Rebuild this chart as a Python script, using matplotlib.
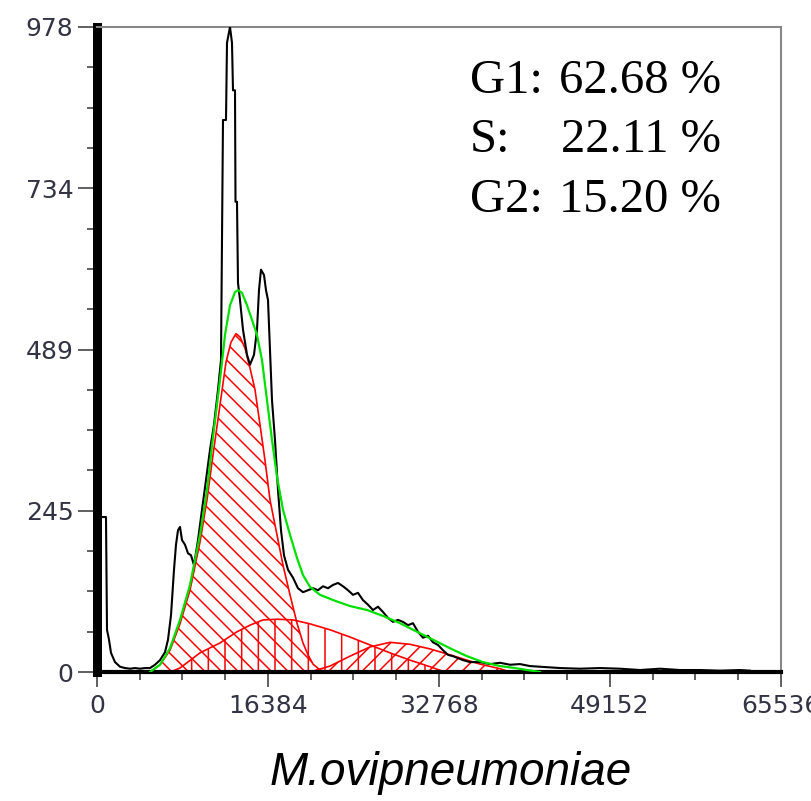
import matplotlib
matplotlib.use("Agg")
import matplotlib.pyplot as plt
from matplotlib.ticker import FixedLocator, MultipleLocator

# histograma medido (canal, contagem)
hist_x = [0, 383, 862, 958, 1150, 1341, 1725, 2204, 2683, 3162, 3641, 4120, 4599, 5078,
          5557, 6036, 6515, 6803, 7090, 7377, 7569, 7761, 7952, 8144, 8431, 8719, 9006,
          9294, 9677, 10060, 10443, 10827, 11210, 11593, 11880, 12072, 12360, 12455,
          12743, 12934, 13030, 13222, 13270, 13413, 13509, 13701, 13988, 14372, 14659,
          15042, 15330, 15521, 15713, 16000, 16192, 16384, 16575, 16767, 17054, 17342,
          17629, 17916, 18300, 18779, 19258, 19737, 20216, 20695, 21174, 21653, 22132,
          22611, 23090, 23569, 24048, 24527, 25006, 25485, 25964, 26443, 26922, 27401,
          27880, 28359, 28838, 29317, 29796, 30275, 30755, 31234, 31713, 32192, 32671,
          33150, 33629, 34108, 34587, 35066, 35737, 36695, 37653, 38611, 39570, 40528,
          41486, 42444, 44360, 46276, 48192, 50108, 52025, 53941, 55857, 57773, 59689,
          61605, 62563]
hist_y = [0, 235, 235, 64, 49, 29, 15, 8, 6, 5, 6, 5, 6, 6,
          11, 18, 30, 49, 86, 155, 193, 215, 220, 200, 193, 180, 177,
          162, 200, 246, 291, 337, 375, 428, 473, 837, 837, 954,
          978, 954, 882, 882, 713, 713, 590, 564, 519, 481, 466,
          481, 519, 579, 610, 602, 579, 564, 488, 412, 352, 276,
          215, 177, 155, 143, 127, 121, 124, 127, 124, 130, 127,
          132, 135, 130, 124, 117, 120, 109, 102, 94, 99, 91,
          82, 76, 79, 76, 71, 74, 61, 52, 55, 45, 41,
          33, 26, 24, 21, 18, 15, 15, 12, 14, 11, 12,
          9, 8, 6, 5, 6, 5, 3, 5, 3, 3, 2,
          3, 2]

# curva ajustada (soma)
fit_x = [5078, 6036, 6994, 7952, 8910, 9868, 10539, 11114, 11785, 12264, 12743, 13222,
         13509, 13892, 14372, 14851, 15330, 15809, 16288, 16767, 17246, 17821, 18492,
         19162, 19737, 20408, 21366, 22803, 24240, 25869, 27402, 29031, 30660, 32192,
         33821, 35450, 36983, 38611, 40048, 41198, 42444]
fit_y = [0, 11, 36, 79, 132, 208, 276, 356, 443, 511, 556, 576,
         579, 575, 556, 534, 511, 473, 412, 352, 296, 246, 208,
         173, 147, 129, 117, 108, 100, 94, 85, 74, 61, 49,
         36, 24, 15, 9, 6, 3, 0]

# fases
g1_x = [5078, 6036, 6994, 7952, 8910, 9868, 10539, 11114, 11785, 12360, 12839, 13318,
        13701, 14180, 14659, 15138, 15617, 16096, 16575, 17246, 17821, 18492, 19162,
        19737, 20216, 20695, 21366, 22324]
g1_y = [0, 11, 33, 73, 124, 197, 261, 329, 405, 470, 500, 513,
        508, 491, 461, 428, 375, 321, 261, 208, 162, 117, 74,
        44, 26, 12, 3, 0]
s_x = [6994, 7952, 9868, 11785, 13413, 14659, 15904, 17246, 18779, 20408, 22324, 24240,
       26156, 28072, 29988, 31905, 33342]
s_y = [0, 6, 29, 44, 61, 71, 79, 80, 79, 73, 64, 53, 41, 29, 18, 8, 0]
g2_x = [20408, 22324, 24240, 26156, 28072, 29988, 31905, 33821, 35450, 36695, 38611, 39570]
g2_y = [0, 9, 24, 38, 45, 42, 35, 26, 18, 12, 5, 0]

fases = ["G1:", "S:", "G2:"]
percentuais = ["62.68 %", "22.11 %", "15.20 %"]

ytick_pos = [0, 244.5, 489, 733.5, 978]
ytick_lab = ["0", "245", "489", "734", "978"]
xtick_pos = [0, 16384, 32768, 49152, 65536]
xtick_lab = ["0", "16384", "32768", "49152", "65536"]

plt.rcParams["hatch.linewidth"] = 1.1
plt.rcParams["hatch.color"] = "red"

fig = plt.figure(figsize=(8.12, 8.01), dpi=100)
ax = fig.add_axes([97 / 812, 129 / 801, 684 / 812, 645 / 801])

ax.fill_between(g1_x, g1_y, facecolor="none", edgecolor="red", hatch="\\\\", linewidth=1.2)
ax.fill_between(s_x, s_y, facecolor="none", edgecolor="red", hatch="|", linewidth=1.2)
ax.fill_between(g2_x, g2_y, facecolor="none", edgecolor="red", hatch="//", linewidth=1.2)
ax.plot(hist_x, hist_y, color="black", linewidth=1.5, zorder=3)
ax.plot(fit_x, fit_y, color="#00e000", linewidth=1.6, zorder=4)

ax.set_xlim(0, 65536)
ax.set_ylim(0, 978)

ax.set_xticks(xtick_pos)
ax.set_xticklabels(xtick_lab)
ax.set_yticks(ytick_pos)
ax.set_yticklabels(ytick_lab)
ax.xaxis.set_minor_locator(MultipleLocator(4096))
ax.yaxis.set_minor_locator(FixedLocator([61.125 * i for i in range(17)]))

ax.tick_params(axis="both", which="major", direction="out", color="#444444", width=1.2,
               labelsize=18, labelcolor="#333344")
ax.tick_params(axis="y", which="major", length=14, pad=3)
ax.tick_params(axis="x", which="major", length=11, pad=5)
ax.tick_params(axis="y", which="minor", length=7, width=1.2, color="#444444")
ax.tick_params(axis="x", which="minor", length=6, width=1.2, color="#444444")

ax.spines["left"].set_linewidth(6.5)
ax.spines["bottom"].set_linewidth(3)
ax.spines["top"].set_color("#888888")
ax.spines["right"].set_color("#888888")
ax.spines["top"].set_linewidth(1.5)
ax.spines["right"].set_linewidth(1.5)

# texto das fases
for i, (f, p) in enumerate(zip(fases, percentuais)):
    yb = 1 - (93 + 59.5 * i) / 801
    fig.text(470 / 812, yb, f, fontsize=35, family="Liberation Serif", va="baseline", ha="left")
    fig.text(721 / 812, yb, p, fontsize=35, family="Liberation Serif", va="baseline", ha="right")

fig.text(451 / 812, 16 / 801, "M.ovipneumoniae", fontsize=33, family="Liberation Sans",
         style="italic", ha="center", va="baseline")

fig.savefig("out.png", dpi=100)
